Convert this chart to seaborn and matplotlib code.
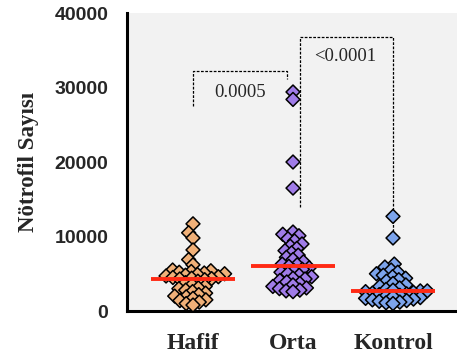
import numpy as np
import pandas as pd
import matplotlib
matplotlib.use("Agg")
import matplotlib.pyplot as plt
import seaborn as sns

categories = ["Hafif", "Orta", "Kontrol"]
hafif = [11700, 10500, 9800, 8200, 6900, 6200, 5500, 5400, 5300, 5200, 5100, 5000,
         4900, 4800, 4700, 4600, 4500, 4400, 4350, 4300, 4200, 4000, 3800, 3500,
         3300, 3100, 3000, 2800, 2600, 2400, 2200, 2000, 1900, 1700, 1500, 1400,
         1200, 1000, 800]
orta = [29400, 28400, 20000, 16500, 10600, 10300, 10100, 9700, 9400, 9000, 8700,
        8400, 8100, 7800, 7500, 7200, 6900, 6600, 6300, 6200, 6000, 5800, 5600,
        5400, 5200, 5000, 4800, 4600, 4400, 4300, 4100, 3900, 3700, 3500, 3300,
        3100, 3000, 2800, 2700, 2600]
kontrol = [12700, 9800, 6300, 5900, 5500, 5200, 5000, 4800, 4600, 4400, 4200, 4000,
           3700, 3500, 3300, 3100, 2900, 2800, 2700, 2700, 2600, 2500, 2400, 2300,
           2200, 2100, 2000, 1900, 1800, 1700, 1600, 1500, 1400, 1300, 1200, 1100, 1000]
colors = ["#F0B078", "#A07CE8", "#7CA4EC"]
y_ticks = [0, 10000, 20000, 30000, 40000]
p_labels = ["0.0005", "<0.0001"]

groups = [hafif, orta, kontrol]
df = pd.DataFrame({
    "group": np.repeat(categories, [len(g) for g in groups]),
    "value": np.concatenate(groups),
})

sns.set_style("white")
plt.rcParams["font.family"] = ["Liberation Sans", "DejaVu Sans"]

fig = plt.figure(figsize=(4.57, 3.6), dpi=100)
ax = fig.add_axes([127 / 457, 1 - 311 / 360, 330 / 457, 298 / 360])
ax.set_facecolor("#F2F2F2")

sns.swarmplot(data=df, x="group", y="value", hue="group", order=categories,
              palette=colors, marker="D", size=3.7, linewidth=1.1,
              edgecolor="black", legend=False, ax=ax, clip_on=False, zorder=3)

ax.set_xlim(-0.66, 2.64)
ax.set_ylim(0, 40000)

# compute swarm layout, then enlarge markers (overlapping like GraphPad)
fig.canvas.draw()
for c in ax.collections:
    if "draw" in c.__dict__:
        del c.draw
    c.set_sizes([50])

# median lines
for i, g in enumerate(groups):
    m = np.median(g)
    ax.hlines(m, i - 0.42, i + 0.42, color="#FF2A14", lw=2.8, zorder=4)

# significance brackets
dash = dict(color="black", lw=0.9, linestyle=(0, (2.2, 1.2)), zorder=2)
ax.plot([0, 0, 0.94, 0.94], [27500, 32200, 32200, 31100], **dash)
ax.plot([1.07, 1.07, 2.0, 2.0], [14000, 36800, 36800, 9800], **dash)
ax.text(0.47, 29300, p_labels[0], ha="center", va="center", fontsize=13.5,
        family="Liberation Serif")
ax.text(1.52, 34100, p_labels[1], ha="center", va="center", fontsize=13.5,
        family="Liberation Serif")

ax.set_yticks(y_ticks)
ax.set_yticklabels([str(t) for t in y_ticks], fontsize=14, fontweight="bold",
                   family="Liberation Sans")
ax.set_xticks(range(3))
ax.set_xticklabels(categories, fontsize=17, fontweight="bold",
                   family="Liberation Serif")
ax.tick_params(axis="both", length=8.5, width=2.2, color="black", direction="out")
ax.tick_params(axis="y", pad=5)
ax.tick_params(axis="x", pad=7)

ax.set_xlabel("")
ax.set_ylabel("Nötrofil Sayısı", fontsize=16.5, fontweight="bold",
              family="Liberation Serif", labelpad=11)

for s in ["top", "right"]:
    ax.spines[s].set_visible(False)
for s in ["left", "bottom"]:
    ax.spines[s].set_linewidth(2.2)
    ax.spines[s].set_color("black")

fig.savefig("out.png", dpi=100)
